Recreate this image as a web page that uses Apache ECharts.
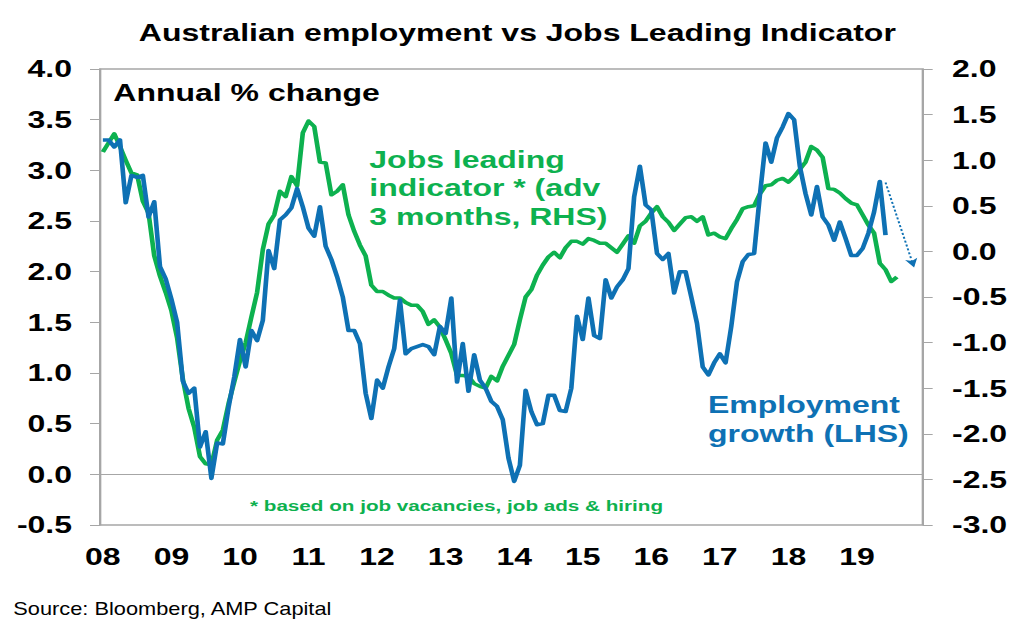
<!DOCTYPE html>
<html>
<head>
<meta charset="utf-8">
<title>Australian employment vs Jobs Leading Indicator</title>
<script src="https://cdn.jsdelivr.net/npm/echarts@6/dist/echarts.min.js"></script>
<style>
  html, body { margin: 0; padding: 0; background: #fff; overflow: hidden; }
  /* the source picture is stretched sideways, so draw at 768 wide and stretch */
  #main { width: 768px; height: 643px; transform: scaleX(1.33333); transform-origin: 0 0; }
</style>
</head>
<body>
<div id="main"></div>
<script>
// tick labels
const yearLabels = ['08', '09', '10', '11', '12', '13', '14', '15', '16', '17', '18', '19'];
const leftTicks = [-0.5, 4.0];
const rightTicks = [-3.0, 2.0];

// employment growth, annual % change, monthly from Jan 2008 (LHS)
const employment = [
  3.30, 3.30, 3.23, 3.30, 2.68, 2.95, 2.93, 2.95, 2.54, 2.69,
  2.05, 1.93, 1.73, 1.50, 0.92, 0.80, 0.85, 0.27, 0.42, -0.04,
  0.31, 0.30, 0.66, 0.96, 1.33, 1.06, 1.42, 1.32, 1.52, 2.21,
  2.03, 2.51, 2.56, 2.63, 2.82, 2.64, 2.43, 2.35, 2.64, 2.25,
  2.12, 1.95, 1.75, 1.42, 1.42, 1.29, 0.80, 0.55, 0.93, 0.85,
  1.06, 1.24, 1.72, 1.19, 1.24, 1.26, 1.28, 1.26, 1.18, 1.46,
  1.39, 1.74, 0.91, 1.29, 0.82, 1.18, 0.93, 0.85, 0.72, 0.67,
  0.54, 0.16, -0.07, 0.09, 0.83, 0.62, 0.49, 0.50, 0.78, 0.78,
  0.63, 0.62, 0.85, 1.56, 1.33, 1.74, 1.37, 1.34, 1.92, 1.74,
  1.85, 1.92, 2.03, 2.74, 3.04, 2.66, 2.61, 2.18, 2.12, 2.18,
  1.79, 2.00, 2.00, 1.75, 1.49, 1.06, 0.98, 1.10, 1.19, 1.10,
  1.46, 1.90, 2.10, 2.17, 2.18, 2.75, 3.27, 3.08, 3.32, 3.43,
  3.56, 3.50, 3.04, 2.77, 2.56, 2.84, 2.54, 2.46, 2.31, 2.49,
  2.33, 2.16, 2.16, 2.23, 2.38, 2.59, 2.89, 2.36
];

// jobs leading indicator, advanced 3 months (RHS)
const leading = [
  1.09, 1.19, 1.29, 1.15, 1.00, 0.86, 0.84, 0.55, 0.42, -0.05,
  -0.27, -0.45, -0.65, -0.95, -1.40, -1.72, -1.93, -2.25, -2.33, -2.34,
  -2.07, -1.96, -1.67, -1.43, -1.20, -1.00, -0.72, -0.45, 0.02, 0.30,
  0.40, 0.66, 0.60, 0.82, 0.72, 1.30, 1.43, 1.37, 0.98, 0.97,
  0.62, 0.66, 0.73, 0.40, 0.22, 0.07, -0.05, -0.37, -0.44, -0.44,
  -0.48, -0.51, -0.51, -0.56, -0.59, -0.59, -0.66, -0.80, -0.75, -0.83,
  -0.97, -1.12, -1.36, -1.36, -1.37, -1.45, -1.48, -1.50, -1.37, -1.42,
  -1.26, -1.14, -1.02, -0.75, -0.50, -0.42, -0.26, -0.15, -0.06, -0.01,
  -0.07, 0.04, 0.11, 0.11, 0.08, 0.14, 0.12, 0.09, 0.09, 0.04,
  -0.01, 0.08, 0.17, 0.09, 0.28, 0.33, 0.42, 0.49, 0.38, 0.32,
  0.23, 0.30, 0.37, 0.38, 0.33, 0.38, 0.18, 0.20, 0.16, 0.14,
  0.25, 0.35, 0.47, 0.49, 0.50, 0.63, 0.72, 0.73, 0.78, 0.80,
  0.76, 0.82, 0.90, 0.98, 1.15, 1.11, 1.03, 0.69, 0.68, 0.64,
  0.58, 0.53, 0.51, 0.40, 0.29, 0.20, -0.13, -0.20, -0.33, -0.28
];

// dotted arrow after the last employment point: [month index, LHS value]
const arrowFrom = [137, 2.88];
const arrowTo = [142, 2.04];

const months = [];
yearLabels.forEach(function (y) {
  for (let m = 1; m <= 12; m++) {
    months.push((m < 10 ? '0' + m : '' + m) + '/' + y);
  }
});

const BLUE = '#0e71b4';
const GREEN = '#0db14f';
const GREY = '#a6a6a6';
const FONT = "'Liberation Sans', Arial, sans-serif";

const chart = echarts.init(document.getElementById('main'), null, { renderer: 'svg' });

const valueLabel = {
  color: '#000',
  fontFamily: FONT,
  fontWeight: 'bold',
  fontSize: 24,
  formatter: function (v) { return v.toFixed(1); }
};

const option = {
  animation: false,
  backgroundColor: '#fff',
  grid: {
    left: 75,
    right: 76,
    top: 69,
    bottom: 118,
    show: true,
    borderColor: GREY,
    borderWidth: 1.5
  },
  xAxis: [
    {
      // line and ticks sit on the zero of the LHS
      type: 'category',
      data: months,
      boundaryGap: true,
      axisLine: { onZero: true, onZeroAxisIndex: 0, lineStyle: { color: GREY, width: 1 } },
      axisTick: {
        interval: function (index) { return index % 12 === 0; },
        length: 7,
        lineStyle: { color: GREY, width: 1 }
      },
      axisLabel: { show: false },
      splitLine: { show: false }
    },
    {
      // labels only, along the bottom of the plot
      type: 'category',
      data: months,
      position: 'bottom',
      boundaryGap: true,
      axisLine: { show: false, onZero: false },
      axisTick: { show: false },
      axisLabel: {
        interval: function (index) { return index % 12 === 0; },
        formatter: function (v) { return v.slice(-2); },
        margin: 20,
        color: '#000',
        fontFamily: FONT,
        fontWeight: 'bold',
        fontSize: 24
      },
      splitLine: { show: false }
    }
  ],
  yAxis: [
    {
      type: 'value',
      position: 'left',
      min: leftTicks[0],
      max: leftTicks[1],
      interval: 0.5,
      axisLine: { show: true, lineStyle: { color: GREY } },
      axisTick: { show: true, length: 7.5, lineStyle: { color: GREY } },
      axisLabel: Object.assign({ margin: 21 }, valueLabel),
      splitLine: { show: false }
    },
    {
      type: 'value',
      position: 'right',
      min: rightTicks[0],
      max: rightTicks[1],
      interval: 0.5,
      axisLine: { show: true, lineStyle: { color: GREY } },
      axisTick: { show: true, length: 7.5, lineStyle: { color: GREY } },
      axisLabel: Object.assign({ margin: 22 }, valueLabel),
      splitLine: { show: false }
    }
  ],
  series: [
    {
      name: 'Jobs leading indicator',
      type: 'line',
      xAxisIndex: 0,
      yAxisIndex: 1,
      data: leading,
      showSymbol: false,
      lineStyle: { color: GREEN, width: 3.5, join: 'round' },
      z: 2
    },
    {
      name: 'Employment growth',
      type: 'line',
      xAxisIndex: 0,
      yAxisIndex: 0,
      data: employment,
      showSymbol: false,
      lineStyle: { color: BLUE, width: 3.5, join: 'round' },
      z: 3,
      markLine: {
        silent: true,
        symbol: ['none', 'arrow'],
        symbolSize: [7, 9],
        label: { show: false },
        lineStyle: { color: BLUE, type: [2, 2], width: 1.5 },
        data: [[{ coord: arrowFrom }, { coord: arrowTo }]]
      }
    }
  ],
  graphic: [
    {
      type: 'text', x: 388, y: 33,
      style: {
        text: 'Australian employment vs Jobs Leading Indicator',
        fill: '#000', fontFamily: FONT, fontWeight: 'bold', fontSize: 24,
        align: 'center', verticalAlign: 'middle'
      }
    },
    {
      type: 'text', x: 85, y: 93,
      style: {
        text: 'Annual % change',
        fill: '#000', fontFamily: FONT, fontWeight: 'bold', fontSize: 24,
        align: 'left', verticalAlign: 'middle'
      }
    },
    {
      type: 'text', x: 277, y: 188,
      style: {
        text: 'Jobs leading\nindicator * (adv\n3 months, RHS)',
        fill: GREEN, fontFamily: FONT, fontWeight: 'bold', fontSize: 24,
        lineHeight: 28.3, align: 'left', verticalAlign: 'middle'
      }
    },
    {
      type: 'text', x: 531, y: 419,
      style: {
        text: 'Employment\ngrowth (LHS)',
        fill: BLUE, fontFamily: FONT, fontWeight: 'bold', fontSize: 24,
        lineHeight: 28.5, align: 'left', verticalAlign: 'middle'
      }
    },
    {
      type: 'text', x: 187.5, y: 505,
      style: {
        text: '* based on job vacancies, job ads & hiring',
        fill: GREEN, fontFamily: FONT, fontWeight: 'bold', fontSize: 15.5,
        align: 'left', verticalAlign: 'middle'
      }
    },
    {
      // narrow face in the original, squeeze the regular one
      type: 'text', x: 10, y: 608, scaleX: 0.86,
      style: {
        text: 'Source: Bloomberg, AMP Capital',
        fill: '#000', fontFamily: FONT, fontSize: 19,
        align: 'left', verticalAlign: 'middle'
      }
    }
  ]
};

chart.setOption(option);
</script>
</body>
</html>
